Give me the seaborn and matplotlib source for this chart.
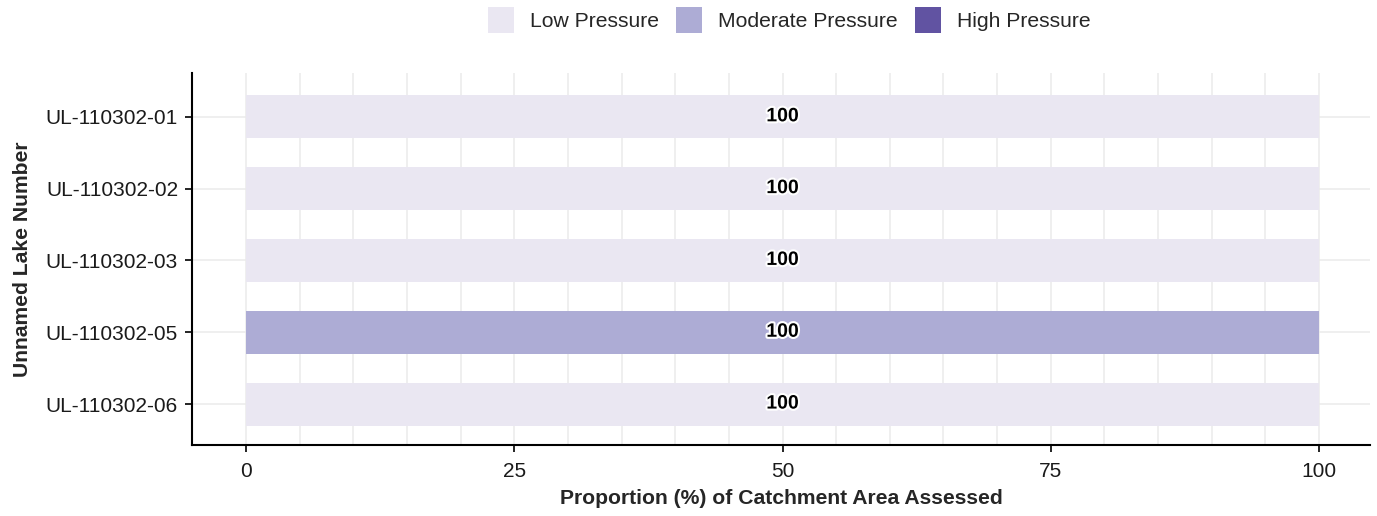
import matplotlib
matplotlib.use("Agg")
import matplotlib.pyplot as plt
import matplotlib.patheffects as pe
from matplotlib.patches import Patch
import numpy as np
import pandas as pd
import seaborn as sns

# Catchment pressure breakdown per unnamed lake (% of assessed area)
lakes = ["UL-110302-01", "UL-110302-02", "UL-110302-03", "UL-110302-05", "UL-110302-06"]
low_pressure = [100, 100, 100, 0, 100]
moderate_pressure = [0, 0, 0, 100, 0]
high_pressure = [0, 0, 0, 0, 0]

levels = ["Low Pressure", "Moderate Pressure", "High Pressure"]
colors = {"Low Pressure": "#EAE7F2", "Moderate Pressure": "#ADACD5", "High Pressure": "#6153A2"}

df = pd.DataFrame({
    "lake": lakes,
    "Low Pressure": low_pressure,
    "Moderate Pressure": moderate_pressure,
    "High Pressure": high_pressure,
})
# cumulative right edge of each stacked segment
df["cum_low"] = df["Low Pressure"]
df["cum_mod"] = df["cum_low"] + df["Moderate Pressure"]
df["cum_high"] = df["cum_mod"] + df["High Pressure"]

sns.set_theme(style="white")
plt.rcParams["font.family"] = ["Liberation Sans", "DejaVu Sans"]

fig = plt.figure(figsize=(13.77, 5.16), dpi=100)
ax = fig.add_axes([192 / 1377, 1 - 445 / 516, (1370 - 192) / 1377, (445 - 73) / 516])

# gridlines every 5 % and at each lake
for xv in np.arange(0, 101, 5):
    ax.axvline(xv, color="#EBEBEB", lw=1.1, zorder=0)
for yi in range(len(lakes)):
    ax.axhline(yi, color="#EBEBEB", lw=1.1, zorder=0)

# stacked bars: draw longest cumulative first, shorter ones on top
for col, lvl in [("cum_high", "High Pressure"), ("cum_mod", "Moderate Pressure"), ("cum_low", "Low Pressure")]:
    sns.barplot(data=df, x=col, y="lake", order=lakes, orient="h", color=colors[lvl],
                saturation=1, width=0.6, linewidth=0, ax=ax, zorder=2)

# segment value labels
starts = {"Low Pressure": [0] * len(lakes),
          "Moderate Pressure": list(df["cum_low"]),
          "High Pressure": list(df["cum_mod"])}
for lvl in levels:
    for i, v in enumerate(df[lvl]):
        if v > 0:
            ax.text(starts[lvl][i] + v / 2, i, f"{v:g}", ha="center", va="center",
                    fontsize=14, fontweight="bold", color="black", zorder=5,
                    path_effects=[pe.withStroke(linewidth=3, foreground="white")])

ax.set_xlim(-5.03, 104.75)
ax.set_ylim(4.57, -0.61)
ax.set_xticks([0, 25, 50, 75, 100])
ax.set_xticklabels(["0", "25", "50", "75", "100"])
ax.set_xlabel("Proportion (%) of Catchment Area Assessed", fontsize=15.2, fontweight="bold", labelpad=6)
ax.set_ylabel("Unnamed Lake Number", fontsize=15.2, fontweight="bold", labelpad=10)
ax.tick_params(axis="both", labelsize=15, length=5, width=1.2, pad=5,
               direction="out", bottom=True, left=True, labelcolor="#1a1a1a", color="black")
ax.tick_params(axis="x", pad=7)

for s in ["top", "right"]:
    ax.spines[s].set_visible(False)
for s in ["left", "bottom"]:
    ax.spines[s].set_visible(True)
    ax.spines[s].set_color("black")
    ax.spines[s].set_linewidth(1.5)

handles = [Patch(facecolor=colors[l], edgecolor="none", label=l) for l in levels]
fig.legend(handles=handles, loc="center", bbox_to_anchor=(789 / 1377, 1 - 20 / 516),
           ncol=3, frameon=False, fontsize=15.2, handlelength=1.25, handleheight=1.45,
           handletextpad=0.75, columnspacing=0.8)

fig.savefig("out.png", dpi=100)
